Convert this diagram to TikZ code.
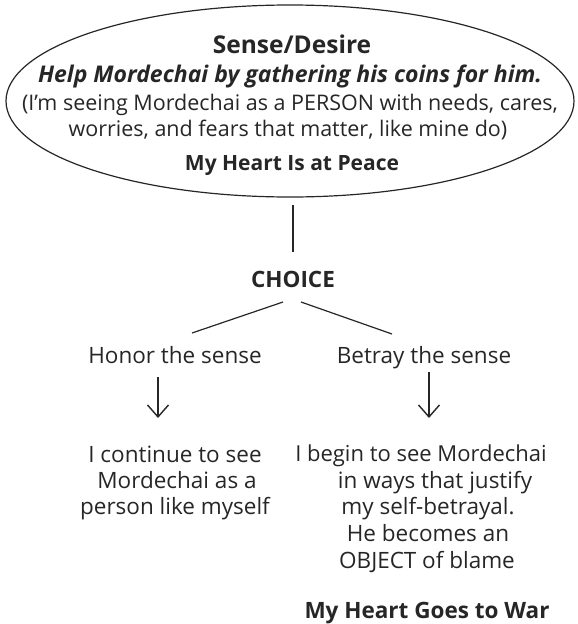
\documentclass[tikz,border=0pt]{standalone}
\usepackage{fontspec}
\setmainfont{Open Sans}
\usetikzlibrary{shapes.geometric,arrows.meta,calc}
\begin{document}
\begin{tikzpicture}[x=1pt,y=-1pt,
  txt/.style={inner sep=0pt,anchor=base,font=\fontsize{22.5}{26}\selectfont,text=black!85},
  ovaltxt/.style={txt,font=\fontsize{21.5}{26}\selectfont},
  bld/.style={txt,font=\fontsize{22.5}{26}\selectfont\bfseries},
  ln/.style={line width=1.2pt,black!85},
  arr/.style={line width=1.4pt,black!85,-{Straight Barb[length=12pt,width=21pt,line width=1.4pt]}}]
\useasboundingbox (0,0) rectangle (578,624);
\node[ellipse,draw,ln,minimum width=568pt,minimum height=192pt] (oval) at (290,101) {};
\node[bld,font=\fontsize{24.5}{26}\selectfont\bfseries] (sense) at (292,53) {Sense/Desire};
\node[txt,font=\fontsize{23}{26}\selectfont\bfseries\itshape] (help) at (290,82) {Help Mordechai by gathering his coins for him.};
\node[ovaltxt] (seeing1) at (290,110) {(I'm seeing Mordechai as a PERSON with needs, cares,};
\node[ovaltxt] (seeing2) at (288,136) {worries, and fears that matter, like mine do)};
\node[bld,font=\fontsize{21}{26}\selectfont\bfseries] (peace) at (292,170) {My Heart Is at Peace};
\node[bld] (choice) at (293,287) {CHOICE};
\coordinate (vtop) at (293,205);
\coordinate (vbot) at (293,252);
\draw[ln] (vtop) -- (vbot);
\node[txt] (honor) at (175,363) {Honor the sense};
\node[txt] (betray) at (424,363) {Betray the sense};
\coordinate (cl) at (283,302);
\coordinate (cr) at (301,302);
\coordinate (hl) at (192,333);
\coordinate (br) at (392,334);
\draw[ln] (cl) -- (hl);
\draw[ln] (cr) -- (br);
\coordinate (la1) at (158,377);
\coordinate (la2) at (158,418);
\coordinate (ra1) at (429,372);
\coordinate (ra2) at (429,418);
\draw[arr] (la1) -- (la2);
\draw[arr] (ra1) -- (ra2);
\node[txt] (c1) at (175,462) {I continue to see};
\node[txt] (c2) at (177,488) {Mordechai as a};
\node[txt] (c3) at (175,514) {person like myself};
\node[txt,font=\fontsize{22}{26}\selectfont] (b1) at (421,461) {I begin to see Mordechai};
\node[txt] (b2) at (435,488) {in ways that justify};
\node[txt] (b3) at (428,514) {my self-betrayal.};
\node[txt] (b4) at (428,541) {He becomes an};
\node[txt] (b5) at (427,568) {OBJECT of blame};
\node[bld] (war) at (427,618) {My Heart Goes to War};
\end{tikzpicture}
\end{document}
